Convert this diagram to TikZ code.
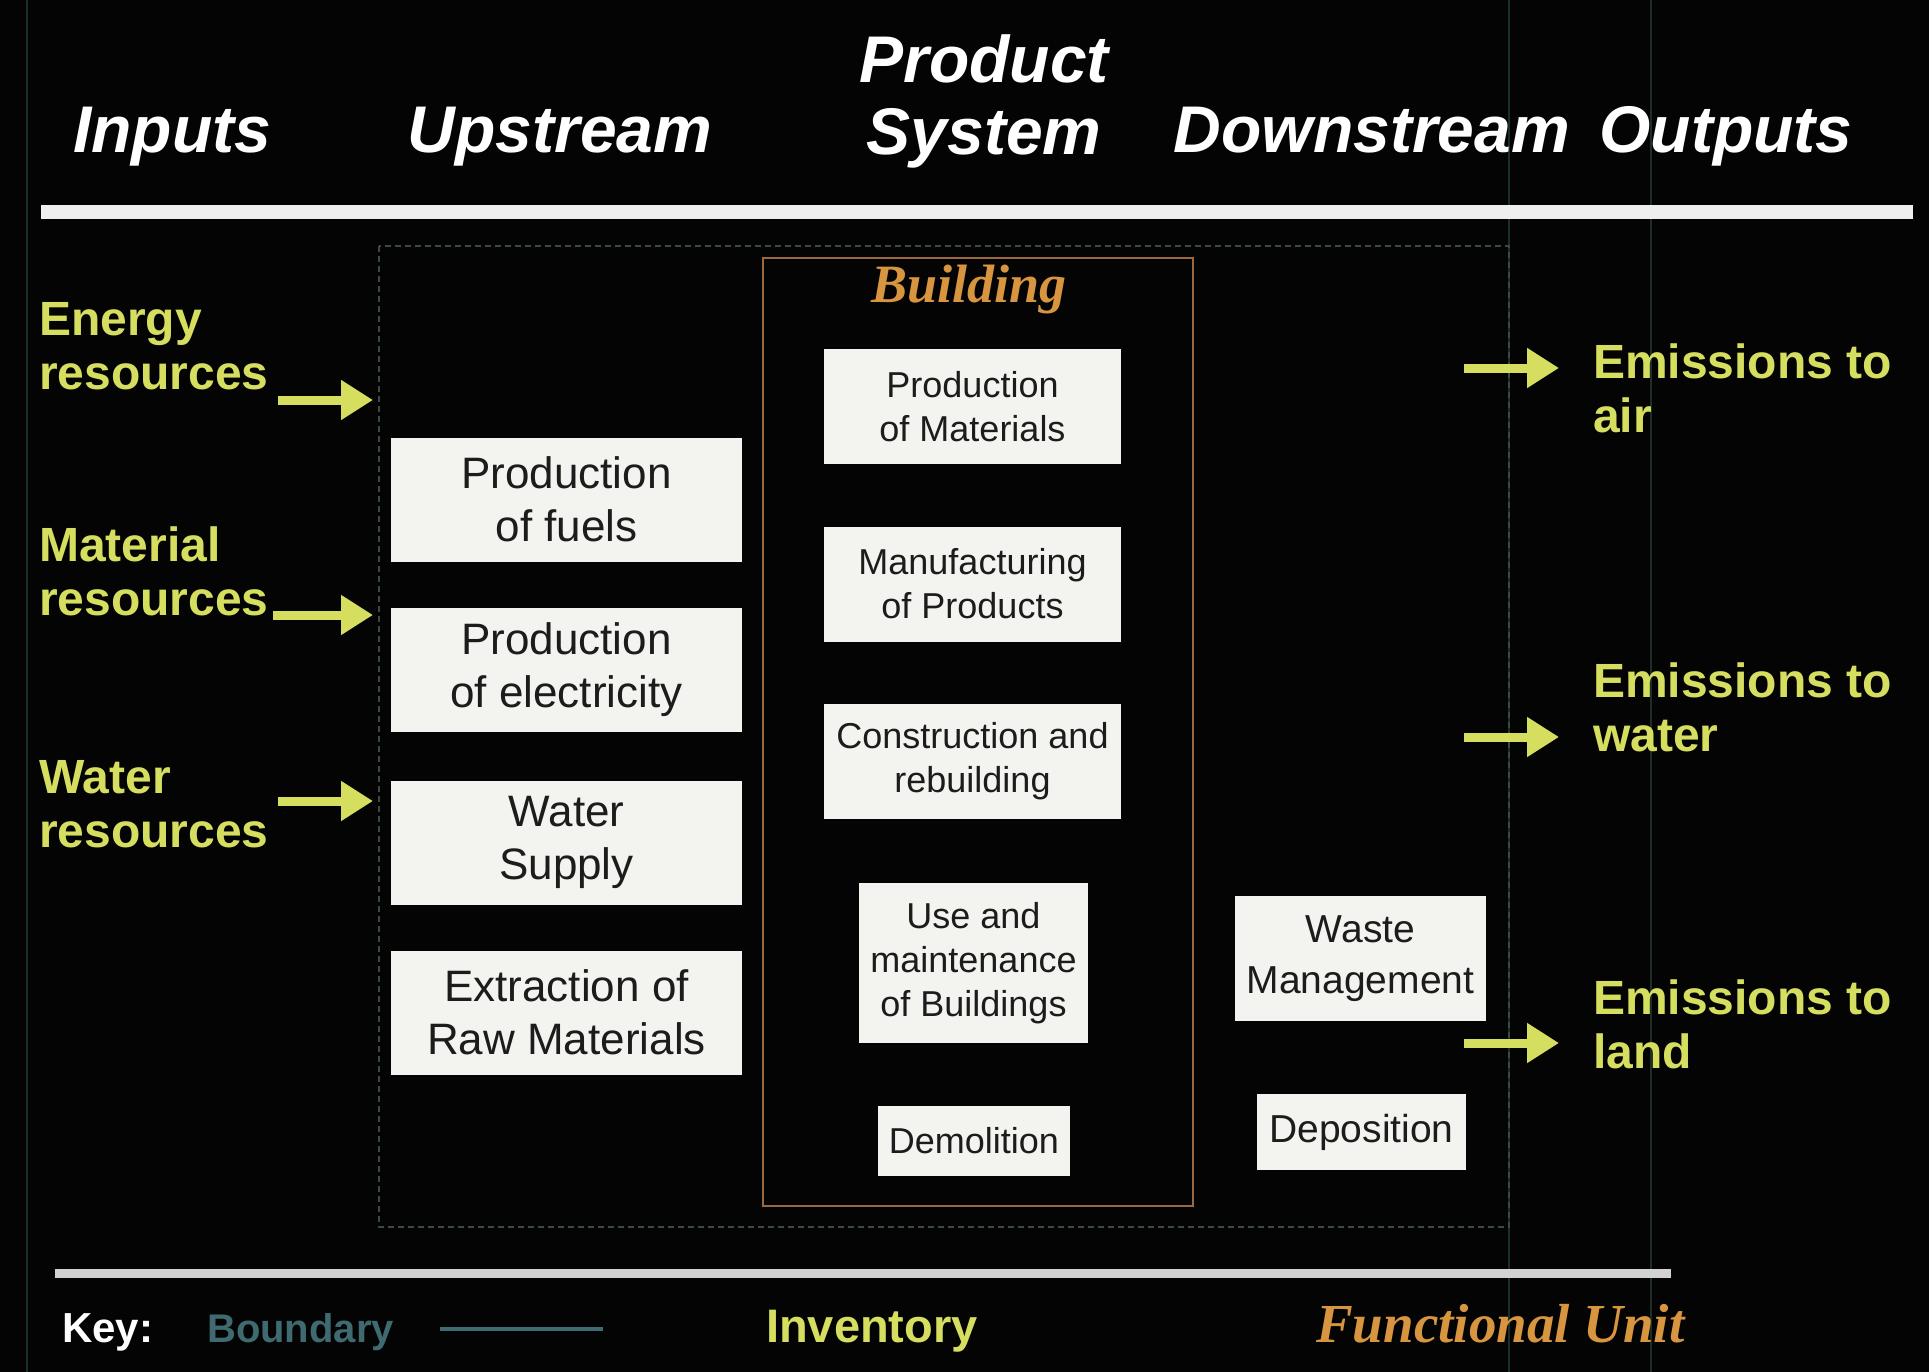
\documentclass[tikz,border=0pt]{standalone}
\usepackage{fontspec}
\setmainfont{Liberation Sans}
\newfontfamily\titleserif{Liberation Serif}
\usetikzlibrary{arrows.meta}

\definecolor{bg}{HTML}{040404}
\definecolor{inv}{HTML}{D6DE60}
\definecolor{fu}{HTML}{D8953F}
\definecolor{bnd}{HTML}{3E6A70}
\definecolor{bndline}{HTML}{3A4C42}
\definecolor{bldline}{HTML}{9A6A3E}
\definecolor{boxfill}{HTML}{F3F3EF}
\definecolor{boxtext}{HTML}{1C1C1C}
\definecolor{scan}{HTML}{1B3022}
\definecolor{rule}{HTML}{EFEFEF}

\begin{document}
\begin{tikzpicture}[x=1pt,y=-1pt,
  head/.style={text=white, inner sep=0pt, anchor=base,
    font=\fontsize{66}{72}\selectfont\bfseries\itshape},
  lbl/.style={text=inv, inner sep=0pt, anchor=north west, align=left,
    font=\fontsize{48}{54}\selectfont\bfseries},
  upbox/.style={fill=boxfill, text=boxtext, inner sep=0pt, align=center,
    minimum width=351pt, minimum height=124pt,
    font=\fontsize{44}{53}\selectfont},
  bldbox/.style={fill=boxfill, text=boxtext, inner sep=0pt, align=center,
    minimum width=297pt, minimum height=115pt,
    font=\fontsize{36}{44}\selectfont},
  dnbox/.style={fill=boxfill, text=boxtext, inner sep=0pt, align=center,
    font=\fontsize{39}{51}\selectfont},
  flow/.style={draw=inv, line width=9pt,
    -{Triangle[length=32pt,width=38pt]}},
  scanline/.style={draw=scan, line width=2pt},
  boundary/.style={draw=bndline, line width=2pt, dash pattern=on 6pt off 4pt},
  keytext/.style={inner sep=0pt, anchor=base west,
    font=\fontsize{42}{48}\selectfont\bfseries},
  unitlabel/.style={inner sep=0pt, text=fu,
    font=\titleserif\fontsize{#1}{60}\selectfont\bfseries\itshape}
]
\useasboundingbox (0,0) rectangle (1929,1372);
\fill[bg] (0,0) rectangle (1929,1372);

% faint vertical guide lines
\draw[scanline] (27,0) -- (27,1372);
\draw[scanline] (1509,0) -- (1509,1372);
\draw[scanline] (1651,0) -- (1651,1372);

% column headings
\node[head] (hin)   at (172,153) {Inputs};
\node[head] (hup)   at (560,153) {Upstream};
\node[head] (hprod) at (984,83)  {Product};
\node[head] (hsys)  at (984,155) {System};
\node[head] (hdown) at (1372,153) {Downstream};
\node[head] (hout)  at (1726,153) {Outputs};

% rules
\draw[rule, line width=14pt] (41,212) -- (1913,212);
\draw[rule!88!black, line width=9pt] (55,1273) -- (1671,1273);

% system boundary and functional unit frame
\draw[boundary] (379,246) rectangle (1509,1227);
\draw[bldline, line width=2.5pt] (763,258) rectangle (1193,1206);
\node[unitlabel=54, anchor=base] (bld) at (969,302) {Building};

% upstream processes
\node[upbox] (fuels) at (566.5,499.5) {Production\\of fuels};
\node[upbox] (elec)  at (566.5,670)   {Production\\of electricity};
\node[upbox] (wsup)  at (566.5,842.5) {Water\\Supply};
\node[upbox] (raw)   at (566.5,1012.5) {Extraction of\\Raw Materials};

% building life cycle
\node[bldbox] (pmat)   at (972.5,406.5) {Production\\of Materials};
\node[bldbox] (manuf)  at (972.5,584)   {Manufacturing\\of Products};
\node[bldbox] (constr) at (972.5,761.5) {Construction and\\rebuilding};
\node[bldbox, minimum width=229pt, minimum height=160pt] (use) at (973.5,963)
  {Use and\\maintenance\\of Buildings};
\node[bldbox, minimum width=192pt, minimum height=70pt] (demo) at (974,1141) {Demolition};

% downstream processes
\node[dnbox, minimum width=251pt, minimum height=125pt] (waste) at (1360.5,958.5) {Waste\\Management};
\node[dnbox, minimum width=209pt, minimum height=76pt] (depo) at (1361.5,1132) {Deposition};

% inputs
\node[lbl] (energy) at (39,302) {Energy\\resources};
\node[lbl] (mater)  at (39,527) {Material\\resources};
\node[lbl] (water)  at (39,760) {Water\\resources};

\coordinate (eTail) at (278,400);  \coordinate (eHead) at (373,400);
\coordinate (mTail) at (273,615);  \coordinate (mHead) at (373,615);
\coordinate (wTail) at (278,801);  \coordinate (wHead) at (373,801);
\draw[flow] (eTail) -- (eHead);
\draw[flow] (mTail) -- (mHead);
\draw[flow] (wTail) -- (wHead);

% outputs
\node[lbl] (air)   at (1593,344) {Emissions to\\air};
\node[lbl] (h2o)   at (1593,663) {Emissions to\\water};
\node[lbl] (land)  at (1593,980) {Emissions to\\land};

\coordinate (aTail) at (1464,368);  \coordinate (aHead) at (1559,368);
\coordinate (oTail) at (1464,737);  \coordinate (oHead) at (1559,737);
\coordinate (lTail) at (1464,1043); \coordinate (lHead) at (1559,1043);
\draw[flow] (aTail) -- (aHead);
\draw[flow] (oTail) -- (oHead);
\draw[flow] (lTail) -- (lHead);

% key
\node[keytext, text=white] (key) at (62,1342) {Key:};
\node[keytext, text=bnd, font=\fontsize{40}{46}\selectfont\bfseries] (kbnd) at (207,1342) {Boundary};
\coordinate (kl1) at (440,1329); \coordinate (kl2) at (603,1329);
\draw[bnd, line width=4pt] (kl1) -- (kl2);
\node[keytext, text=inv, font=\fontsize{47}{52}\selectfont\bfseries] (kinv) at (766,1342) {Inventory};
\node[unitlabel=55, anchor=base west] (kfu) at (1316,1342) {Functional Unit};
\end{tikzpicture}
\end{document}
